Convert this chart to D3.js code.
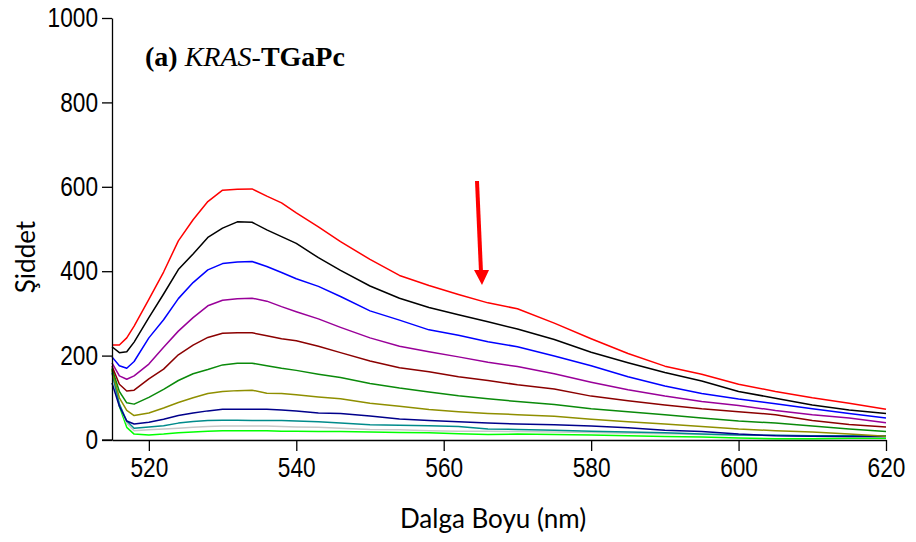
<!DOCTYPE html>
<html>
<head>
<meta charset="utf-8">
<script src="https://cdn.jsdelivr.net/npm/d3@7"></script>
<style>
  body { margin: 0; background: #fff; }
  .tick text { font-family: "Liberation Sans", Arial, sans-serif; font-size: 27px; fill: #000; }
  .axis path, .axis line { stroke: #000; stroke-width: 1.3; }
</style>
</head>
<body>
<svg id="chart" width="916" height="542"></svg>
<script>
// wavelength grid (nm)
let wavelengths = [515, 516, 517, 518, 520, 522, 524, 526, 528, 530, 532, 534, 536, 538, 540, 543, 546, 550, 554, 558, 562, 566, 570, 575, 580, 585, 590, 595, 600, 605, 610, 615, 620];

// intensity readings, top curve first
let red    = [225, 225, 242, 270, 333, 398, 472, 522, 565, 592, 594, 595, 578, 562, 538, 505, 470, 428, 390, 366, 345, 325, 311, 277, 240, 205, 175, 156, 132, 115, 100, 87, 73];
let black  = [221, 207, 209, 232, 290, 346, 404, 441, 480, 502, 517, 516, 498, 482, 466, 432, 402, 365, 336, 314, 297, 280, 263, 238, 208, 183, 160, 140, 115, 99, 83, 71, 63];
let blue   = [197, 176, 170, 186, 242, 285, 335, 373, 403, 418, 422, 423, 411, 397, 382, 364, 340, 306, 284, 261, 248, 233, 221, 199, 176, 150, 128, 110, 97, 86, 74, 63, 52];
let purple = [183, 152, 144, 152, 180, 220, 258, 290, 318, 331, 335, 336, 329, 316, 304, 287, 267, 242, 222, 209, 197, 184, 174, 157, 137, 119, 104, 91, 82, 70, 60, 52, 41];
let maroon = [175, 132, 116, 118, 145, 168, 202, 225, 243, 253, 254, 254, 247, 240, 235, 222, 207, 187, 171, 162, 150, 141, 131, 121, 104, 93, 83, 74, 67, 60, 46, 37, 31];
let green  = [170, 115, 88, 85, 101, 120, 141, 157, 167, 178, 182, 182, 176, 170, 165, 156, 148, 134, 123, 114, 105, 98, 91, 84, 74, 67, 60, 52, 45, 40, 33, 26, 20];
let olive  = [165, 100, 70, 58, 64, 76, 89, 100, 110, 115, 117, 118, 111, 110, 107, 102, 98, 87, 80, 72, 67, 63, 60, 56, 49, 43, 38, 32, 26, 22, 19, 14, 9];
let navy   = [135, 80, 45, 38, 42, 49, 58, 64, 69, 73, 73, 73, 73, 71, 69, 64, 63, 57, 50, 46, 43, 40, 38, 36, 33, 29, 23, 20, 14, 10, 9, 8, 8];
let teal   = [160, 85, 45, 28, 31, 34, 40, 44, 46, 47, 47, 46, 46, 46, 45, 43, 40, 36, 35, 34, 32, 26, 25, 23, 21, 19, 17, 14, 12, 11, 10, 10, 10];
let silver = [158, 85, 40, 22, 24, 26, 28, 30, 32, 33, 33, 33, 33, 32, 31, 30, 28, 25, 24, 22, 21, 21, 20, 19, 18, 16, 15, 13, 12, 11, 9, 8, 8];
let lime   = [168, 80, 30, 14, 12, 14, 17, 19, 21, 22, 22, 22, 22, 21, 21, 20, 20, 19, 18, 17, 15, 13, 14, 13, 12, 10, 8, 7, 5, 3, 3, 4, 4];

let seriesList = [red, black, blue, purple, maroon, green, olive, navy, teal, silver, lime];
let colors = ["#ff0000", "#000000", "#0000ff", "#990099", "#8b0000", "#0a8a0a", "#8f8f00", "#00008b", "#008b8b", "#c8c8c8", "#00ff00"];

let xTicks = [520, 540, 560, 580, 600, 620];
let yTicks = [0, 200, 400, 600, 800, 1000];

// tick digits in the original are narrow, so squeeze them sideways
let squeeze = 0.84;

function drawChart() {
    let svg = d3.select("#chart");

    let x = d3.scaleLinear().domain([515, 620]).range([112, 886]);
    let y = d3.scaleLinear().domain([0, 1000]).range([440, 18]);

    let line = d3.line()
        .x((d, i) => x(wavelengths[i]))
        .y(d => y(d));

    // bottom curves first so the top ones sit over them
    svg.append("g")
        .selectAll("path")
        .data(seriesList.map((s, i) => ({ values: s, color: colors[i] })).reverse())
        .enter()
        .append("path")
        .attr("fill", "none")
        .attr("stroke", d => d.color)
        .attr("stroke-width", 1.5)
        .attr("stroke-linejoin", "round")
        .attr("d", d => line(d.values));

    svg.append("g")
        .attr("class", "axis")
        .attr("transform", "translate(0,440)")
        .call(d3.axisBottom(x).tickValues(xTicks).tickFormat(d3.format("d")).tickSize(11).tickSizeOuter(0).tickPadding(7))
        .selectAll(".tick text")
        .attr("transform", `scale(${squeeze},1)`);

    let yAxis = svg.append("g")
        .attr("class", "axis")
        .attr("transform", "translate(112,0)")
        .call(d3.axisLeft(y).tickValues(yTicks).tickFormat(d3.format("d")).tickSize(10).tickSizeOuter(0).tickPadding(4));
    yAxis.selectAll(".tick text")
        .attr("x", -14 / squeeze)
        .attr("transform", `scale(${squeeze},1)`);

    // little stub so the x axis meets the zero tick
    svg.append("line")
        .attr("x1", 102).attr("x2", 112)
        .attr("y1", 440).attr("y2", 440)
        .attr("stroke", "#000").attr("stroke-width", 1.3);

    // axis titles
    svg.append("text")
        .attr("x", 493).attr("y", 528)
        .attr("text-anchor", "middle")
        .style("font-family", "Lato, sans-serif")
        .style("font-size", "26px")
        .text("Dalga Boyu (nm)");

    svg.append("text")
        .attr("transform", "translate(35,257) rotate(-90)")
        .attr("text-anchor", "middle")
        .style("font-family", "Lato, sans-serif")
        .style("font-size", "26px")
        .text("Şiddet");

    // panel label
    let label = svg.append("text")
        .attr("x", 145).attr("y", 66)
        .style("font-family", "'Liberation Serif', serif")
        .style("font-size", "28px");
    label.append("tspan").style("font-weight", "bold").text("(a) ");
    label.append("tspan").style("font-style", "italic").text("KRAS");
    label.append("tspan").text("-");
    label.append("tspan").style("font-weight", "bold").text("TGaPc");

    // red arrow marking the decrease
    svg.append("line")
        .attr("x1", 477).attr("y1", 181)
        .attr("x2", 481).attr("y2", 272)
        .attr("stroke", "#ff0000")
        .attr("stroke-width", 4);
    svg.append("path")
        .attr("d", "M474,270 L489,270 L482,285 Z")
        .attr("fill", "#ff0000");
}

window.onload = function() {
    drawChart();
}
</script>
</body>
</html>
